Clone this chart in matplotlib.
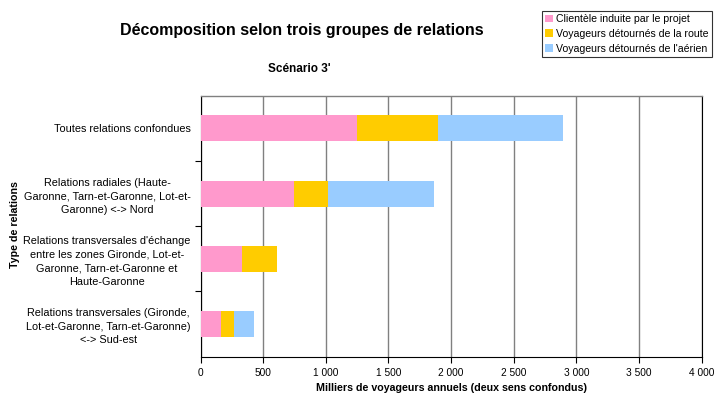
import matplotlib
matplotlib.use("Agg")
import matplotlib.pyplot as plt
import numpy as np

plt.rcParams['font.family'] = ['Liberation Sans', 'DejaVu Sans']

categories = [
    "Toutes relations confondues",
    "Relations radiales (Haute-\nGaronne, Tarn-et-Garonne, Lot-et-\nGaronne) <-> Nord",
    "Relations transversales d'échange\nentre les zones Gironde, Lot-et-\nGaronne, Tarn-et-Garonne et\nHaute-Garonne",
    "Relations transversales (Gironde,\nLot-et-Garonne, Tarn-et-Garonne)\n<-> Sud-est",
]
clientele_induite = [1250, 750, 333, 162]
detournes_route = [650, 270, 277, 106]
detournes_aerien = [995, 845, 0, 158]

series_names = [
    "Clientèle induite par le projet",
    "Voyageurs détournés de la route",
    "Voyageurs détournés de l'aérien",
]
colors = ["#FF99CC", "#FFCC00", "#99CCFF"]

x_ticks = [0, 500, 1000, 1500, 2000, 2500, 3000, 3500, 4000]
x_tick_labels = ["0", "500", "1 000", "1 500", "2 000", "2 500", "3 000", "3 500", "4 000"]

fig = plt.figure(figsize=(7.16, 3.94), dpi=100)
ax = fig.add_axes([200.5 / 716, 1 - 356.7 / 394, 501 / 716, 261 / 394])

y = np.arange(len(categories))
left = np.zeros(len(categories))
handles = []
for vals, name, col in zip([clientele_induite, detournes_route, detournes_aerien], series_names, colors):
    h = ax.barh(y, vals, left=left, height=0.4, color=col, label=name, zorder=3, linewidth=0)
    handles.append(h)
    left = left + np.array(vals)

ax.set_xlim(0, 4000)
ax.set_ylim(len(categories) - 0.5, -0.5)

ax.set_xticks(x_ticks)
ax.set_xticklabels(x_tick_labels, fontsize=7.3)
ax.tick_params(axis='x', direction='out', length=4, width=0.8, pad=4)
ax.xaxis.grid(True, color='#808080', linewidth=1, zorder=1)

ax.set_yticks(y)
ax.set_yticklabels(categories, fontsize=7.8, ha='right', multialignment='center', linespacing=1.45)
ax.tick_params(axis='y', which='major', length=0, pad=7)
ax.set_yticks(np.arange(len(categories) - 1) + 0.5, minor=True)
ax.tick_params(axis='y', which='minor', direction='out', length=4, width=0.8)

for side in ['left', 'bottom', 'right']:
    ax.spines[side].set_color('black')
    ax.spines[side].set_linewidth(0.8)
ax.spines['top'].set_color('#808080')
ax.spines['top'].set_linewidth(1)

ax.set_xlabel("Milliers de voyageurs annuels (deux sens confondus)", fontsize=7.7, fontweight='bold', labelpad=4)
fig.text(15 / 716, 1 - 225 / 394, "Type de relations", rotation=90, fontsize=7.7, fontweight='bold',
         ha='center', va='center')

fig.text(302 / 716, 1 - 31 / 394, "Décomposition selon trois groupes de relations",
         fontsize=11.5, fontweight='bold', ha='center', va='center')
fig.text(299 / 716, 1 - 69 / 394, "Scénario 3'", fontsize=8.5, fontweight='bold', ha='center', va='center')

leg = fig.legend(handles=handles, loc='upper right', bbox_to_anchor=(712 / 716, 1 - 11 / 394),
                 fontsize=7.6, frameon=True, fancybox=False, edgecolor='black',
                 handlelength=0.75, handleheight=0.75, handletextpad=0.3,
                 borderpad=0.3, labelspacing=0.45, borderaxespad=0)
leg.get_frame().set_linewidth(0.8)

fig.savefig("out.png", dpi=100)
